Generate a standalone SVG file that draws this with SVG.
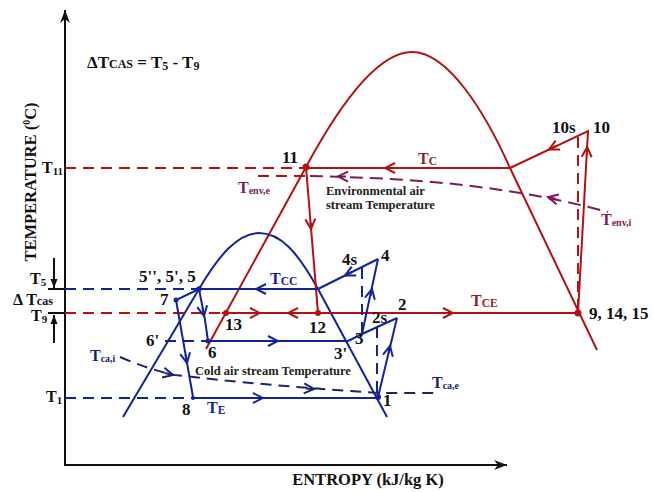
<svg xmlns="http://www.w3.org/2000/svg" width="654" height="492" viewBox="0 0 654 492">
<style>
text{font-family:"Liberation Serif","Times New Roman",serif;font-weight:bold}
.lbl{font-size:17px;fill:#111}
.sm{font-size:12.5px;fill:#222}
.b{stroke:#13239a;stroke-width:2;fill:none}
.bd{stroke:#13239a;stroke-width:2;fill:none;stroke-dasharray:11 7}
.r{stroke:#b31212;stroke-width:2;fill:none}
.rd{stroke:#b31212;stroke-width:2;fill:none;stroke-dasharray:11 7}
.pd{stroke:#7d1a5a;stroke-width:2;fill:none;stroke-dasharray:13 7}
.k{stroke:#111;stroke-width:2;fill:none}
.ab{stroke:#13239a;stroke-width:2;fill:none}
.ar{stroke:#b31212;stroke-width:2;fill:none}
.bt{fill:#13239a}
.rt{fill:#9a1c1c}
.pt{fill:#7d1a5a}
.nt{fill:#1a2470}
.dotb{fill:#13239a}
.dotr{fill:#b31212}
</style>
<defs>
<marker id="chB" viewBox="-12 -7 14 14" refX="0" refY="0" markerWidth="14" markerHeight="14" markerUnits="userSpaceOnUse" orient="auto"><path d="M-10,-5 L0,0 L-10,5" fill="none" stroke="#13239a" stroke-width="2"/></marker>
<marker id="chR" viewBox="-12 -7 14 14" refX="0" refY="0" markerWidth="14" markerHeight="14" markerUnits="userSpaceOnUse" orient="auto"><path d="M-10,-5 L0,0 L-10,5" fill="none" stroke="#b31212" stroke-width="2"/></marker>
<marker id="chP" viewBox="-12 -7 14 14" refX="0" refY="0" markerWidth="14" markerHeight="14" markerUnits="userSpaceOnUse" orient="auto"><path d="M-10,-5 L0,0 L-10,5" fill="none" stroke="#7d1a5a" stroke-width="2"/></marker>
<marker id="chN" viewBox="-12 -7 14 14" refX="0" refY="0" markerWidth="14" markerHeight="14" markerUnits="userSpaceOnUse" orient="auto"><path d="M-10,-5 L0,0 L-10,5" fill="none" stroke="#1a2470" stroke-width="2"/></marker>
<marker id="axA" viewBox="-14 -7 16 14" refX="0" refY="0" markerWidth="16" markerHeight="14" markerUnits="userSpaceOnUse" orient="auto"><path d="M-13,-5 L0,0 L-13,5 L-9,0 Z" fill="#111"/></marker>
<marker id="tkA" viewBox="-10 -5 12 10" refX="0" refY="0" markerWidth="12" markerHeight="10" markerUnits="userSpaceOnUse" orient="auto"><path d="M-9,-3.5 L0,0 L-9,3.5 Z" fill="#111"/></marker>
</defs>
<rect width="654" height="492" fill="#fff"/>

<g id="axes">
<path class="k" d="M65,465 L65,10" marker-end="url(#axA)" stroke-width="2.5"/>
<path class="k" d="M64,465 L507,465" marker-end="url(#axA)" stroke-width="2.5"/>
<text transform="translate(36,182) rotate(-90)" text-anchor="middle" style="font-size:16.5px" fill="#111">TEMPERATURE (<tspan font-size="10" dy="-6">0</tspan><tspan dy="6">C)</tspan></text>
<text x="368" y="485" text-anchor="middle" style="font-size:16.5px" fill="#111">ENTROPY (kJ/kg K)</text>
<text x="87" y="68" style="font-size:17px" fill="#111">ΔT<tspan font-size="12">CAS</tspan> = T<tspan font-size="12" dy="2">5</tspan><tspan dy="-2"> - T</tspan><tspan font-size="12" dy="2">9</tspan></text>
<text x="42" y="173" style="font-size:16px" fill="#111">T<tspan font-size="11" dy="2">11</tspan></text>
<text x="30" y="284" style="font-size:16px" fill="#111">T<tspan font-size="11" dy="2">5</tspan></text>
<text x="13" y="305" style="font-size:16px" fill="#111">Δ T<tspan font-size="12">cas</tspan></text>
<text x="31" y="321" style="font-size:16px" fill="#111">T<tspan font-size="11" dy="2">9</tspan></text>
<text x="46" y="402" style="font-size:16px" fill="#111">T<tspan font-size="11" dy="2">1</tspan></text>
<path class="k" d="M48,289 L65,289"/>
<path class="k" d="M48,313 L65,313"/>
<path class="k" d="M54,258 L54,288" marker-end="url(#tkA)"/>
<path class="k" d="M54,343 L54,315" marker-end="url(#tkA)"/>
</g>

<g id="domes">
<path id="dome-red" class="r" d="M206,349 L306,167 C340,104 378,52 412,52 C448,52 485,112 510,168 L597,350"/>
<path id="dome-blue" class="b" d="M123,417 L199,289 C219,255 238,233 259,233 C280,233 297,251 318,289 L387,417"/>
</g>

<g id="connectors">
<path class="rd" d="M65,168 L306,168"/>
<path class="r" d="M510,168 L306,168"/>
<path class="ar" d="M392,168 L385,168" marker-end="url(#chR)"/>
<path class="r" d="M306,167 L318,313"/>
<path class="ar" d="M310.5,222 L311,229" marker-end="url(#chR)"/>
<path class="rd" d="M65,313 L222,313"/>
<path class="r" d="M222,313 L578,313"/>
<path class="ar" d="M252,313 L260,313" marker-end="url(#chR)"/>
<path class="ar" d="M296,313 L288,313" marker-end="url(#chR)"/>
<path class="ar" d="M445,313 L453,313" marker-end="url(#chR)"/>
<path class="r" d="M578,313 L588,131 L510,168"/>
<path class="ar" d="M586.8,155 L587.2,147" marker-end="url(#chR)"/>
<path class="ar" d="M556,146 L549,149.5" marker-end="url(#chR)"/>
<path class="rd" d="M578,137 L578,313" stroke-dasharray="9 5"/>
<path class="rd" d="M258,176 L305,176"/>
<path class="pd" d="M310,176 C400,178 500,183 608,212"/>
<path class="ar" d="M346,176.5 L338,176.4" marker-end="url(#chP)" style="stroke:#7d1a5a"/>
<path class="ar" d="M556,199 L548,197" marker-end="url(#chP)" style="stroke:#7d1a5a"/>
<path class="bd" d="M65,289 L199,289"/>
<path class="b" d="M199,289 L318,289"/>
<path class="ab" d="M264,289 L256,289" marker-end="url(#chB)"/>
<path class="b" d="M318,289 L378,259"/>
<path class="ab" d="M352,272 L345,275.5" marker-end="url(#chB)"/>
<path class="bd" d="M362,268 L362,334" stroke-dasharray="8 5"/>
<path class="b" d="M362,334 L378,259"/>
<path class="ab" d="M370.5,296 L372,289" marker-end="url(#chB)"/>
<path class="b" d="M348,341 L362,334 L397,318"/>
<path class="bd" d="M377,327 L377,396" stroke-dasharray="8 5"/>
<path class="b" d="M378,397 L397,318"/>
<path class="ab" d="M388.5,353 L390,346" marker-end="url(#chB)"/>
<path class="bd" d="M165,341 L208,341"/>
<path class="b" d="M208,341 L348,341"/>
<path class="ab" d="M270,341 L278,341" marker-end="url(#chB)"/>
<path class="b" d="M199,289 L205,320 L208,341"/>
<path class="ab" d="M202.5,308 L204,316" marker-end="url(#chB)"/>
<path class="b" d="M199,289 L176,300 L193,397"/>
<path class="ab" d="M185.5,355 L187,363" marker-end="url(#chB)"/>
<path class="bd" d="M65,398 L193,398"/>
<path class="b" d="M193,398 L378,398"/>
<path class="ab" d="M255,398 L263,398" marker-end="url(#chB)"/>
<path class="bd" d="M120,357 Q150,370 175,375 Q260,385 378,393 L440,393" style="stroke:#1a2470"/>
<path class="ab" d="M165,373 L173,375" marker-end="url(#chN)" style="stroke:#1a2470"/>
<path class="ab" d="M306,388.5 L314,389" marker-end="url(#chN)" style="stroke:#1a2470"/>
</g>

<g id="p11"><circle cx="306" cy="167" r="3.5" class="dotr"/><text class="lbl" x="282" y="163">11</text></g>
<g id="p12"><circle cx="318" cy="313" r="3" class="dotr"/><text class="lbl" x="309" y="333">12</text></g>
<g id="p13"><circle cx="226" cy="313" r="3" class="dotr"/><text class="lbl" x="225" y="330">13</text></g>
<g id="p9"><circle cx="578" cy="313" r="3.5" class="dotr"/><text class="lbl" x="589" y="319">9, 14, 15</text></g>
<g id="p10"><text class="lbl" x="593" y="133">10</text><text class="lbl" x="552" y="133">10s</text></g>
<g id="p5"><circle cx="199" cy="289" r="2.8" class="dotb"/><text class="lbl" x="139" y="282">5'', 5', 5</text></g>
<g id="p7"><circle cx="176" cy="300" r="2.5" class="dotb"/><text class="lbl" x="160" y="305">7</text></g>
<g id="p6"><circle cx="208" cy="341" r="2.5" class="dotb"/><text class="lbl" x="208" y="358">6</text><text class="lbl" x="146" y="346">6'</text></g>
<g id="p8"><circle cx="193" cy="398" r="2" class="dotb"/><text class="lbl" x="182" y="415">8</text></g>
<g id="p1"><circle cx="378" cy="397" r="3" class="dotb"/><text class="lbl" x="383" y="406">1</text></g>
<g id="p2"><text class="lbl" x="398" y="310">2</text><text class="lbl" x="372" y="323">2s</text></g>
<g id="p3"><text class="lbl" x="355" y="344">3</text><text class="lbl" x="334" y="359">3'</text></g>
<g id="p4"><text class="lbl" x="381" y="261">4</text><text class="lbl" x="342" y="265">4s</text></g>

<g id="labels">
<text class="rt" x="418" y="164" font-size="16">T<tspan font-size="11.5" dy="1">C</tspan></text>
<text class="rt" x="471" y="306" font-size="16">T<tspan font-size="11.5" dy="1">CE</tspan></text>
<text class="bt" x="270" y="284" font-size="16">T<tspan font-size="11.5" dy="1">CC</tspan></text>
<text class="bt" x="207" y="413" font-size="16">T<tspan font-size="11.5" dy="1">E</tspan></text>
<text class="pt" x="238" y="193" font-size="16">T<tspan font-size="10" dy="1">env,e</tspan></text>
<text class="pt" x="601" y="225" font-size="16">T<tspan font-size="10" dy="1">env,i</tspan></text>
<text class="nt" x="90" y="361" font-size="16">T<tspan font-size="10" dy="1">ca,i</tspan></text>
<text class="nt" x="432" y="388" font-size="16">T<tspan font-size="10" dy="1">ca,e</tspan></text>
<text class="sm" x="326" y="195">Environmental air</text>
<text class="sm" x="326" y="209">stream Temperature</text>
<text class="sm" x="195" y="375">Cold air stream Temperature</text>
</g>
</svg>
